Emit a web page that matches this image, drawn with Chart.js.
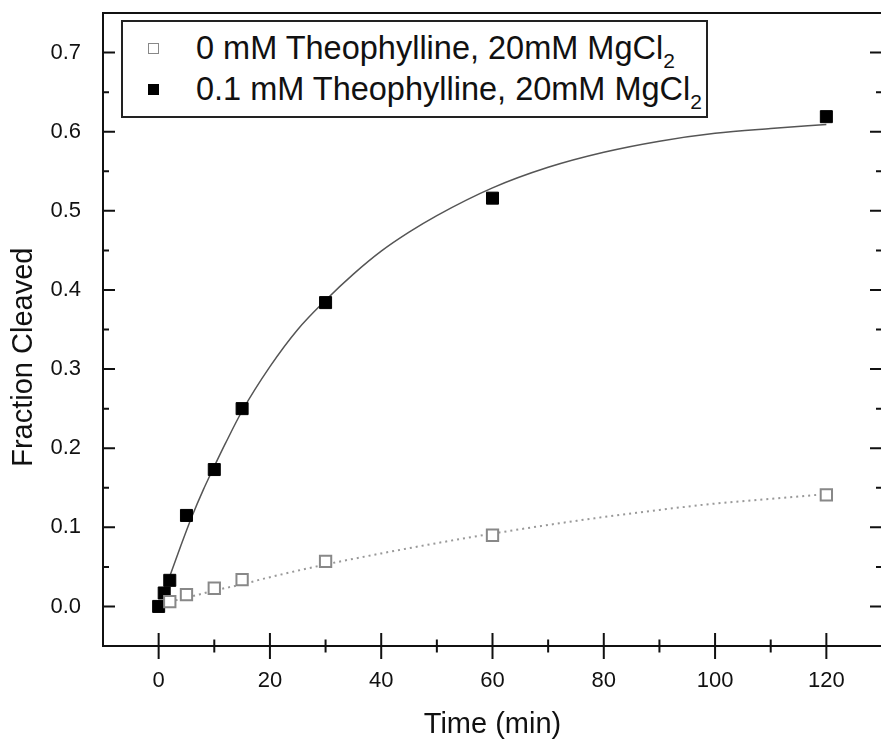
<!DOCTYPE html>
<html>
<head>
<meta charset="utf-8">
<script src="https://cdn.jsdelivr.net/npm/chart.js@4/dist/chart.umd.min.js"></script>
<style>
  html, body { margin: 0; padding: 0; background: #fff; overflow: hidden; }
  #wrap { position: relative; width: 892px; height: 740px; }
  #legend {
    position: absolute; left: 121px; top: 20px; width: 583px; height: 94px;
    border: 2px solid #222; background: #fff;
    font-family: "Liberation Sans", Arial, sans-serif; font-size: 32.5px; color: #111;
  }
  #legend .row { position: absolute; left: 0; height: 36px; line-height: 36px; white-space: nowrap; }
  #legend .mk { position: absolute; left: 25px; top: 13px; width: 9px; height: 9px; }
  #legend .txt { position: absolute; left: 73px; top: 0; }
  #legend sub { font-size: 21px; vertical-align: -9px; line-height: 0; }
</style>
</head>
<body>
<div id="wrap">
  <canvas id="chart" width="892" height="740"></canvas>
  <div id="legend">
    <div class="row" style="top: 8px;"><span class="mk" style="border: 1.5px solid #888; background: #fff;"></span><span class="txt">0 mM Theophylline, 20mM MgCl<sub>2</sub></span></div>
    <div class="row" style="top: 49px;"><span class="mk" style="border: 1.5px solid #000; background: #000;"></span><span class="txt">0.1 mM Theophylline, 20mM MgCl<sub>2</sub></span></div>
  </div>
</div>
<script>
// measured points (time in min, fraction cleaved)
let timeOpen = [2, 5, 10, 15, 30, 60, 120];
let fracOpen = [0.006, 0.015, 0.023, 0.034, 0.057, 0.090, 0.141];

let timeFilled = [0, 1, 2, 5, 10, 15, 30, 60, 120];
let fracFilled = [0.000, 0.017, 0.033, 0.115, 0.173, 0.250, 0.384, 0.516, 0.619];

// fitted curves
let fitTimeFilled = [2, 4, 6, 8, 10, 12, 15, 20, 25, 30, 35, 40, 45, 50, 60, 70, 80, 90, 100, 110, 120];
let fitFracFilled = [0.038, 0.077, 0.114, 0.147, 0.177, 0.206, 0.247, 0.303, 0.350, 0.387, 0.420, 0.449, 0.473, 0.494, 0.529, 0.555, 0.574, 0.588, 0.598, 0.604, 0.609];

let fitTimeOpen = [2, 5, 10, 15, 20, 30, 40, 50, 60, 70, 80, 90, 100, 110, 120];
let fitFracOpen = [0.006, 0.011, 0.020, 0.028, 0.037, 0.053, 0.067, 0.080, 0.092, 0.103, 0.113, 0.122, 0.130, 0.136, 0.142];

let xTickLabels = [0, 20, 40, 60, 80, 100, 120];
let yTickLabels = [0.0, 0.1, 0.2, 0.3, 0.4, 0.5, 0.6, 0.7];
let xMinorTicks = [10, 30, 50, 70, 90, 110];
let yMinorTicks = [0.05, 0.15, 0.25, 0.35, 0.45, 0.55, 0.65];

function toPoints(xs, ys) {
    return xs.map((x, i) => ({ x: x, y: ys[i] }));
}

const FONT = '"Liberation Sans", Arial, sans-serif';

// frame, Origin style tick marks and the y title (sits a bit below the middle)
const framePlugin = {
    id: 'frame',
    afterDraw(chart) {
        let ctx = chart.ctx;
        let a = chart.chartArea;
        let xs = chart.scales.x, ys = chart.scales.y;
        ctx.save();
        ctx.strokeStyle = '#111';
        ctx.lineWidth = 2;
        ctx.strokeRect(a.left, a.top, a.right - a.left, a.bottom - a.top);
        ctx.beginPath();
        xTickLabels.forEach(v => {
            let px = xs.getPixelForValue(v);
            ctx.moveTo(px, a.bottom - 13); ctx.lineTo(px, a.bottom + 13);
        });
        xMinorTicks.forEach(v => {
            let px = xs.getPixelForValue(v);
            ctx.moveTo(px, a.bottom - 6.5); ctx.lineTo(px, a.bottom + 6.5);
        });
        yTickLabels.forEach(v => {
            let py = ys.getPixelForValue(v);
            ctx.moveTo(a.left, py); ctx.lineTo(a.left + 12, py);
            ctx.moveTo(a.right, py); ctx.lineTo(a.right - 12, py);
        });
        yMinorTicks.forEach(v => {
            let py = ys.getPixelForValue(v);
            ctx.moveTo(a.left, py); ctx.lineTo(a.left + 6, py);
            ctx.moveTo(a.right, py); ctx.lineTo(a.right - 6, py);
        });
        ctx.stroke();

        ctx.translate(24, ys.getPixelForValue(0.315));
        ctx.rotate(-Math.PI / 2);
        ctx.fillStyle = '#111';
        ctx.font = '29px ' + FONT;
        ctx.textAlign = 'center';
        ctx.textBaseline = 'middle';
        ctx.fillText('Fraction Cleaved', 0, 0);
        ctx.restore();
    }
};

let ctx = document.getElementById('chart').getContext('2d');
let chartInstance = new Chart(ctx, {
    type: 'scatter',
    data: {
        datasets: [
            {
                label: '0 mM Theophylline, 20mM MgCl2',
                data: toPoints(timeOpen, fracOpen),
                pointStyle: 'rect',
                pointRadius: 8,
                pointBackgroundColor: '#fff',
                pointBorderColor: '#888',
                pointBorderWidth: 2,
                showLine: false,
                order: 1
            },
            {
                label: '0.1 mM Theophylline, 20mM MgCl2',
                data: toPoints(timeFilled, fracFilled),
                pointStyle: 'rect',
                pointRadius: 8.5,
                pointBackgroundColor: '#000',
                pointBorderColor: '#000',
                pointBorderWidth: 1,
                showLine: false,
                order: 2
            },
            {
                label: 'fit filled',
                data: toPoints(fitTimeFilled, fitFracFilled),
                showLine: true,
                borderColor: '#555',
                borderWidth: 1.5,
                pointRadius: 0,
                cubicInterpolationMode: 'monotone',
                order: 3
            },
            {
                label: 'fit open',
                data: toPoints(fitTimeOpen, fitFracOpen),
                showLine: true,
                borderColor: '#999',
                borderWidth: 2,
                borderDash: [2, 4],
                pointRadius: 0,
                cubicInterpolationMode: 'monotone',
                order: 4
            }
        ]
    },
    options: {
        responsive: false,
        animation: false,
        layout: { padding: { top: 13, right: 3, left: 0, bottom: 0 } },
        plugins: {
            legend: { display: false },
            tooltip: { enabled: false }
        },
        scales: {
            x: {
                type: 'linear',
                min: -10,
                max: 130,
                grid: { display: false, drawTicks: false },
                border: { display: false },
                afterBuildTicks: s => { s.ticks = xTickLabels.map(v => ({ value: v })); },
                afterFit: s => { s.height = 94; s.paddingLeft = 0; s.paddingRight = 0; },
                ticks: {
                    padding: 22,
                    color: '#111',
                    font: { family: FONT, size: 22 },
                    callback: v => String(v)
                },
                title: {
                    display: true,
                    text: 'Time (min)',
                    color: '#111',
                    font: { family: FONT, size: 29 },
                    padding: { top: 0, bottom: -2 }
                }
            },
            y: {
                type: 'linear',
                min: -0.05,
                max: 0.75,
                grid: { display: false, drawTicks: false },
                border: { display: false },
                afterBuildTicks: s => { s.ticks = yTickLabels.map(v => ({ value: v })); },
                afterFit: s => { s.width = 103; s.paddingTop = 0; s.paddingBottom = 0; },
                ticks: {
                    padding: 22,
                    color: '#111',
                    font: { family: FONT, size: 22 },
                    callback: v => Number(v).toFixed(1)
                }
            }
        }
    },
    plugins: [framePlugin]
});
</script>
</body>
</html>
